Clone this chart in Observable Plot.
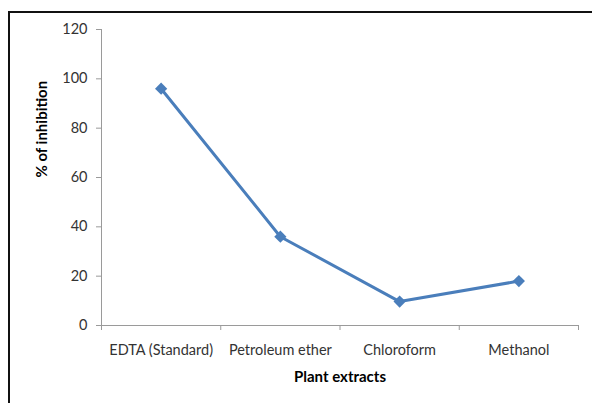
<!DOCTYPE html>
<html>
<head>
<meta charset="utf-8">
<script src="https://cdn.jsdelivr.net/npm/d3@7"></script>
<script src="https://cdn.jsdelivr.net/npm/@observablehq/plot@0.6"></script>
<style>
  html, body { margin: 0; padding: 0; background: #fff; }
  #wrap { position: relative; width: 592px; height: 403px; overflow: hidden; }
  #frame { position: absolute; left: 8px; top: 11px; width: 700px; height: 500px;
           border-top: 2px solid #111; border-left: 2px solid #111; box-sizing: border-box; }
  #chart { position: absolute; left: 0; top: 0; }
</style>
</head>
<body>
<div id="wrap"><div id="frame"></div><div id="chart"></div></div>
<script>
const categories = ["EDTA (Standard)", "Petroleum ether", "Chloroform", "Methanol"];
const inhibition = [96, 36, 9.7, 18];
const yTicks = [0, 20, 40, 60, 80, 100, 120];
const xLabel = "Plant extracts";
const yLabel = "% of inhibition";

const data = categories.map((c, i) => ({cat: c, pos: i + 0.5, value: inhibition[i]}));
const boundaries = d3.range(categories.length + 1);
const centers = categories.map((c, i) => i + 0.5);

const font = "Lato, 'Open Sans', sans-serif";
const lineColor = "#4a7ebb";
const axisColor = "#9a9a9a";

const chart = Plot.plot({
  width: 592,
  height: 403,
  marginLeft: 101,
  marginRight: 14,
  marginTop: 29,
  marginBottom: 78,
  style: {fontFamily: font, fontSize: "14.5px", color: "#333", background: "transparent"},
  x: {domain: [0, categories.length]},
  y: {domain: [0, 120]},
  marks: [
    Plot.ruleX([0], {stroke: axisColor, strokeWidth: 1}),
    Plot.ruleY([0], {stroke: axisColor, strokeWidth: 1}),
    Plot.axisY({ticks: yTicks, tickSize: 5, tickPadding: 9, stroke: axisColor, fill: "#333", fontSize: 14.5, label: null}),
    Plot.axisX({ticks: boundaries, tickSize: 5, tickFormat: () => "", stroke: axisColor, label: null}),
    Plot.axisX({ticks: centers, tickSize: 0, tickPadding: 19, fill: "#333", fontSize: 14.5, tickFormat: (d) => categories[Math.round(d - 0.5)], label: null}),
    Plot.line(data, {x: "pos", y: "value", stroke: lineColor, strokeWidth: 3}),
    Plot.dot(data, {x: "pos", y: "value", symbol: "diamond2", r: 5.5, fill: lineColor, stroke: lineColor, strokeWidth: 0}),
    Plot.text([yLabel], {frameAnchor: "left", dx: -59, rotate: -90, fontWeight: "bold", fontSize: 15, fill: "#000"}),
    Plot.text([xLabel], {frameAnchor: "bottom", dy: 56, fontWeight: "bold", fontSize: 15, fill: "#000"})
  ]
});
document.getElementById("chart").appendChild(chart);
</script>
</body>
</html>
